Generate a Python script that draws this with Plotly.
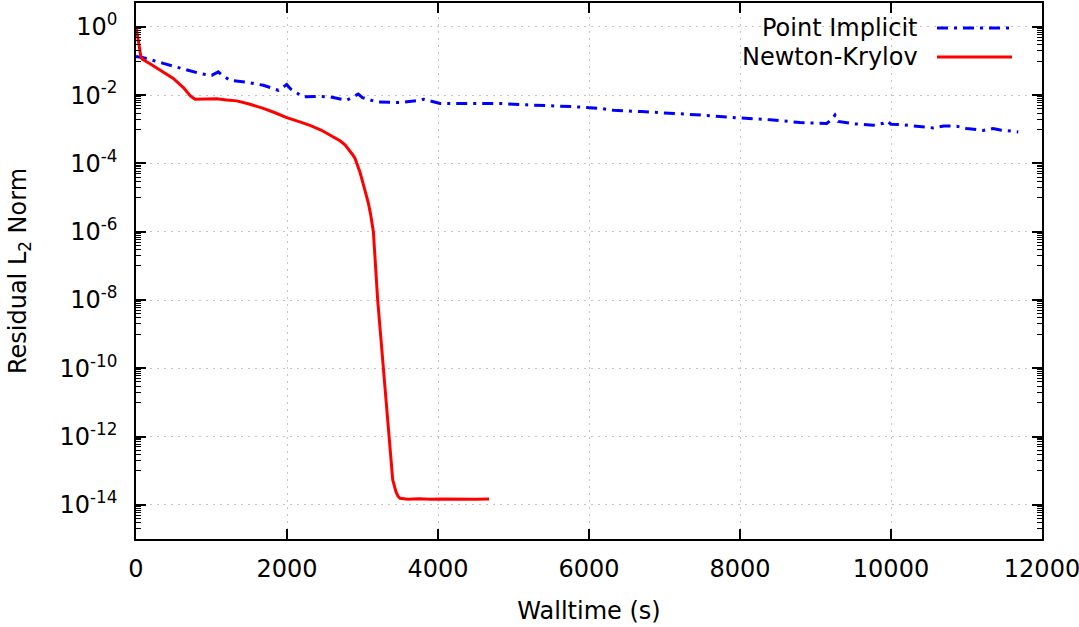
import plotly.graph_objects as go
import math

# ---------------- data ----------------
pi_time = [0, 100, 362, 600, 848, 1002, 1060, 1090, 1130, 1245, 1450, 1687, 1885, 1960,
           1996, 2050, 2216, 2400, 2570, 2790, 2900, 2944, 3000, 3188, 3500, 3750, 3806,
           3880, 4027, 4400, 4821, 5175, 5500, 5792, 6146, 6322, 6700, 7029, 7500, 8000,
           8400, 8795, 9148, 9220, 9258, 9300, 9500, 9766, 9900, 9951, 10000, 10119,
           10300, 10560, 10700, 10870, 11000, 11222, 11350, 11450, 11600, 11686]
pi_resid = [0.135, 0.125, 0.085, 0.062, 0.043, 0.038, 0.046, 0.048, 0.040, 0.027, 0.024,
            0.0195, 0.0139, 0.0185, 0.0204, 0.015, 0.0089, 0.0092, 0.0089, 0.0071, 0.0095,
            0.0107, 0.0085, 0.0063, 0.0061, 0.0070, 0.0076, 0.0070, 0.0057, 0.0057, 0.0057,
            0.0052, 0.0049, 0.0046, 0.0041, 0.0036, 0.0033, 0.0030, 0.0026, 0.00214, 0.0019,
            0.00158, 0.00148, 0.0020, 0.0026, 0.0017, 0.00145, 0.00132, 0.0015, 0.00174,
            0.0014, 0.00138, 0.00125, 0.0011, 0.00125, 0.00123, 0.00105, 0.00093, 0.00105,
            0.00095, 0.00088, 0.00083]

nk_time = [0, 20, 40, 60, 80, 185, 350, 494, 627, 720, 781, 900, 1069, 1200, 1334, 1500,
           1687, 1850, 1996, 2150, 2305, 2450, 2570, 2650, 2702, 2768, 2830, 2870, 2901,
           2935, 2967, 3000, 3030, 3077, 3110, 3144, 3201, 3276, 3355, 3400, 3444, 3470,
           3497, 3600, 3750, 3900, 4050, 4200, 4350, 4500, 4676]
nk_resid = [1.0, 0.6, 0.3, 0.15, 0.115, 0.083, 0.05, 0.031, 0.0167, 0.0095, 0.0076, 0.0077,
            0.0079, 0.0072, 0.0068, 0.0055, 0.0041, 0.003, 0.0022, 0.0017, 0.0013, 0.00095,
            0.00067, 0.00055, 0.00046, 0.00035, 0.00024, 0.00018, 0.00014, 9e-5, 5.5e-5,
            3e-5, 1.8e-5, 7e-6, 3e-6, 1e-6, 1e-8, 1e-10, 1e-12, 5.4e-14, 2.4e-14, 1.8e-14,
            1.55e-14, 1.47e-14, 1.5e-14, 1.45e-14, 1.49e-14, 1.46e-14, 1.5e-14, 1.47e-14,
            1.48e-14]

x_ticks = [0, 2000, 4000, 6000, 8000, 10000, 12000]
y_exponents = [0, -2, -4, -6, -8, -10, -12, -14]

# ---------------- figure ----------------
FONT = "DejaVu Sans"
y_tickvals = [10.0 ** e for e in y_exponents]
y_ticktext = ["10<sup>%d</sup>" % e for e in y_exponents]
minor_vals = []
for e in y_exponents:
    for k in range(1, 10):
        minor_vals.append(10.0 ** e * k / 10.0)

fig = go.Figure()
fig.add_trace(go.Scatter(x=pi_time, y=pi_resid, mode="lines", name="Point Implicit",
                         line=dict(color="#0000ff", width=3, dash="11px,6px,3px,6px"),
                         showlegend=False))
fig.add_trace(go.Scatter(x=nk_time, y=nk_resid, mode="lines", name="Newton-Krylov",
                         line=dict(color="#ff0000", width=3), showlegend=False))

grid = dict(showgrid=True, gridcolor="#c4c4c4", gridwidth=1, griddash="2px,5px")

fig.update_xaxes(range=[0, 12000], tickmode="array", tickvals=x_ticks,
                 ticktext=[str(v) for v in x_ticks],
                 ticks="inside", ticklen=10, tickwidth=1.5, tickcolor="black",
                 showline=True, linecolor="black", linewidth=1.5, mirror="ticks",
                 zeroline=False, tickfont=dict(family=FONT, size=24, color="black"),
                 ticklabelstandoff=7, ticklabeloverflow="allow", automargin=False,
                 title=dict(text="Walltime (s)", font=dict(family=FONT, size=24, color="black"),
                            standoff=21),
                 **grid)
fig.update_yaxes(type="log", range=[-15, math.log10(5)], tickmode="array",
                 tickvals=y_tickvals, ticktext=y_ticktext,
                 ticks="inside", ticklen=10, tickwidth=1.5, tickcolor="black",
                 minor=dict(tickmode="array", tickvals=minor_vals, ticks="inside",
                            ticklen=5, tickwidth=1, tickcolor="black", showgrid=False),
                 showline=True, linecolor="black", linewidth=1.5, mirror="ticks",
                 zeroline=False, tickfont=dict(family=FONT, size=24, color="black"),
                 ticklabelstandoff=12, automargin=False,
                 title=dict(text="Residual L<sub>2</sub> Norm",
                            font=dict(family=FONT, size=24, color="black"), standoff=26),
                 **grid)

# gnuplot-style key: text right-aligned, sample line to its right
key_rows = [("Point Implicit", dict(color="#0000ff", width=3, dash="11px,6px,3px,6px"), 0.9534),
            ("Newton-Krylov", dict(color="#ff0000", width=3), 0.8993)]
for label, ln, yy in key_rows:
    fig.add_annotation(xref="paper", yref="paper", x=0.8653, y=yy, text=label,
                       showarrow=False, xanchor="right", yanchor="middle",
                       font=dict(family=FONT, size=24, color="black"))
    fig.add_shape(type="line", xref="paper", yref="paper", x0=0.8841, x1=0.9669,
                  y0=yy, y1=yy, line=ln)

fig.update_layout(width=1079, height=627, margin=dict(l=136, r=37, t=3, b=88),
                  plot_bgcolor="white", paper_bgcolor="white",
                  font=dict(family=FONT, size=24, color="black"))

fig.write_html("out.html")
